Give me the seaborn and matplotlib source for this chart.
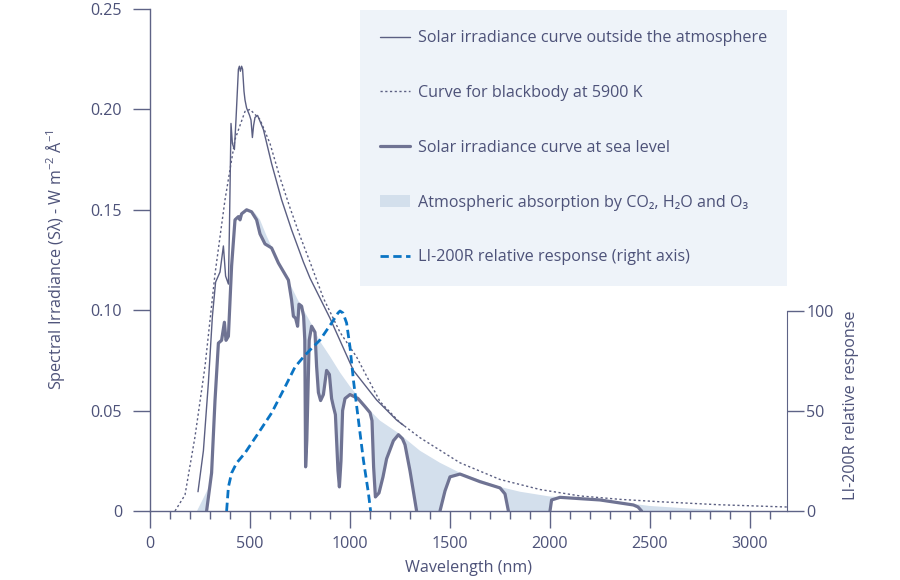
"""   Solar spectral irradiance vs wavelength with LI-200R response   """
import matplotlib.pyplot as plt
import matplotlib.ticker as mticker
from matplotlib.lines import Line2D
from matplotlib.patches import Patch
import seaborn as sns


# ~~~~~~~  Data  ~~~~~~~ #
# solar irradiance outside the atmosphere (nm, W m-2 A-1)
out_nm = [240, 267, 292, 312, 328, 350, 367, 378, 392, 397, 405, 412, 422, 430, 442,
          447, 452, 458, 463, 470, 475, 483, 498, 505, 512, 518, 525, 538, 567, 608,
          658, 708, 767, 800, 900, 1017, 1133, 1233, 1270]
out_val = [0.0096, 0.030, 0.064, 0.097, 0.114, 0.119, 0.132, 0.117, 0.113, 0.140, 0.193,
           0.183, 0.180, 0.195, 0.2200, 0.2215, 0.219, 0.2215, 0.220, 0.209, 0.2047,
           0.2007, 0.197, 0.1947, 0.186, 0.192, 0.196, 0.197, 0.190, 0.173, 0.155, 0.140,
           0.124, 0.116, 0.096, 0.070, 0.0553, 0.0453, 0.0425]

# blackbody at 5900 K
bb_nm = [125, 175, 225, 275, 325, 375, 425, 475, 500, 550, 600, 650, 700, 750, 800,
         867, 950, 1033, 1150, 1250, 1350, 1550, 1750, 1950, 2150, 2350, 2550, 2850,
         3150, 3185]
bb_val = [0.0, 0.008, 0.037, 0.072, 0.118, 0.155, 0.185, 0.199, 0.200, 0.195, 0.183,
          0.166, 0.151, 0.137, 0.124, 0.106, 0.089, 0.0767, 0.0545, 0.0440, 0.0365,
          0.0240, 0.0157, 0.0107, 0.0075, 0.0058, 0.0046, 0.0031, 0.0021, 0.0020]

# solar irradiance at sea level
sea_nm = [283, 308, 325, 342, 358, 372, 380, 392, 408, 425, 442, 450, 458, 483, 508,
          533, 550, 575, 608, 642, 692, 708, 717, 728, 738, 745, 758, 768, 774, 778,
          784, 796, 808, 825, 833, 842, 853, 867, 883, 897, 908, 917, 927, 940, 947,
          955, 963, 975, 1000, 1040, 1075, 1100, 1110, 1118, 1127, 1145, 1165, 1183,
          1217, 1242, 1262, 1275, 1300, 1333, 1450, 1475, 1500, 1550, 1650, 1750, 1775,
          1792, 2000, 2008, 2050, 2250, 2417, 2440, 2458]
sea_val = [0.0, 0.019, 0.055, 0.0836, 0.085, 0.094, 0.085, 0.087, 0.122, 0.145, 0.1466,
           0.145, 0.148, 0.150, 0.149, 0.145, 0.138, 0.133, 0.131, 0.1235, 0.115, 0.105,
           0.097, 0.096, 0.092, 0.103, 0.102, 0.097, 0.085, 0.022, 0.035, 0.085, 0.092,
           0.089, 0.072, 0.059, 0.055, 0.058, 0.070, 0.068, 0.056, 0.052, 0.048, 0.020,
           0.012, 0.025, 0.050, 0.056, 0.058, 0.056, 0.052, 0.049, 0.045, 0.022, 0.007,
           0.009, 0.017, 0.026, 0.035, 0.038, 0.036, 0.033, 0.020, 0.0, 0.0, 0.010,
           0.017, 0.0184, 0.0146, 0.0115, 0.0085, 0.0, 0.0, 0.0055, 0.0068, 0.0055,
           0.0030, 0.0020, 0.0]

# upper edge of the atmospheric absorption band
env_nm = [520, 550, 583, 620, 660, 700, 740, 780, 808, 850, 900, 950, 1000, 1050,
          1100, 1150, 1242, 1350, 1450, 1550, 1650, 1750, 1850, 2000, 2100, 2250,
          2420, 2500, 2700, 2950]
env_val = [0.149, 0.145, 0.137, 0.129, 0.121, 0.113, 0.105, 0.098, 0.093, 0.0845,
           0.077, 0.069, 0.062, 0.056, 0.050, 0.045, 0.0388, 0.030, 0.024, 0.019,
           0.0155, 0.012, 0.0096, 0.0072, 0.0068, 0.0058, 0.0035, 0.0025, 0.0012, 0.0]
uv_env_nm = [235, 290]
uv_env_val = [0.0, 0.011]

# LI-200R relative response (right axis, %)
li_nm = [383, 392, 408, 433, 475, 542, 608, 675, 725, 767, 800, 850, 908, 940, 950,
         965, 983, 1000, 1017, 1042, 1067, 1092, 1103]
li_val = [0, 12, 19, 24, 29, 39, 49, 62, 72, 77, 80.5, 85.5, 94, 99, 100, 99, 94,
          82, 65.5, 45.5, 25.5, 9, 0]

# ~~~~~~~  Styles  ~~~~~~~ #
text_color = '#4d5279'
axis_color = '#5e6386'
line_color = '#5b5f82'
sea_color = '#6f7393'
fill_color = '#d3dfec'
blue = '#0a74c4'
fs = 11.6

sns.set_style('white')
plt.rcParams['font.family'] = ['Open Sans', 'DejaVu Sans']
plt.rcParams['font.size'] = fs

fig = plt.figure(figsize=(9, 5.8), dpi=100)
ax = fig.add_axes([150 / 900, 1 - 511 / 580, 637 / 900, 502 / 580])
ax2 = ax.twinx()

# absorption fill: envelope forward, sea level back
sea_pts = [(x, y) for x, y in zip(sea_nm, sea_val) if x >= 520]
poly_x = env_nm + [p[0] for p in sea_pts[::-1]]
poly_y = env_val + [p[1] for p in sea_pts[::-1]]
ax.fill(poly_x, poly_y, color=fill_color, lw=0, zorder=1)
ax.fill(uv_env_nm + [283], uv_env_val + [0.0], color=fill_color, lw=0, zorder=1)

# curves
sns.lineplot(x=bb_nm, y=bb_val, ax=ax, color=line_color, lw=1.0,
             linestyle=(0, (1.6, 1.8)), sort=False, estimator=None, zorder=2)
sns.lineplot(x=out_nm, y=out_val, ax=ax, color=line_color, lw=1.0,
             sort=False, estimator=None, zorder=3)

# sea level curve: break it where it runs along the zero line
segments, cur = [], []
for x, y in zip(sea_nm, sea_val):
    if cur and y == 0 and cur[-1][1] == 0:
        segments.append(cur)
        cur = []
    cur.append((x, y))
segments.append(cur)
for seg in segments:
    sns.lineplot(x=[p[0] for p in seg], y=[p[1] for p in seg], ax=ax, color=sea_color,
                 lw=2.3, sort=False, estimator=None, zorder=4)

sns.lineplot(x=li_nm, y=li_val, ax=ax2, color=blue, lw=2.0,
             linestyle=(0, (3, 1.6)), sort=False, estimator=None)

# left axis
ax.set_xlim(0, 3185)
ax.set_ylim(0, 0.25)
ax.set_yticks([0, 0.05, 0.10, 0.15, 0.20, 0.25])
ax.yaxis.set_major_formatter(mticker.FuncFormatter(lambda v, p: '0' if v == 0 else f'{v:.2f}'))
ax.xaxis.set_major_locator(mticker.MultipleLocator(500))
ax.xaxis.set_minor_locator(mticker.MultipleLocator(100))
ax.tick_params(axis='y', which='major', length=12, width=1, color=axis_color,
               labelcolor=text_color, labelsize=fs, pad=8, left=True)
ax.tick_params(axis='x', which='major', length=12, width=1, color=axis_color,
               labelcolor=text_color, labelsize=fs, pad=6, bottom=True)
ax.tick_params(axis='x', which='minor', length=6, width=1, color=axis_color, bottom=True)
for side in ['top', 'right']:
    ax.spines[side].set_visible(False)
for side in ['left', 'bottom']:
    ax.spines[side].set_color(axis_color)
    ax.spines[side].set_linewidth(1)
ax.set_xlabel('Wavelength (nm)', color=text_color, fontsize=fs, labelpad=6)
ax.set_ylabel(r'Spectral Irradiance (Sλ) - W m$^{\mathregular{-2}}$ Å$^{\mathregular{-1}}$',
              color=text_color, fontsize=fs)
ax.yaxis.set_label_coords(-0.13, 0.5)

# right axis
ax2.set_ylim(0, 251)
ax2.set_yticks([0, 50, 100])
ax2.tick_params(axis='y', length=12, width=1, color=axis_color, labelcolor=text_color,
                labelsize=fs, pad=2, right=True)
for side in ['top', 'left', 'bottom']:
    ax2.spines[side].set_visible(False)
ax2.spines['right'].set_bounds(0, 100)
ax2.spines['right'].set_color(axis_color)
ax2.set_ylabel('LI-200R relative response', color=text_color, fontsize=fs)
ax2.yaxis.set_label_coords(1.088, 0.21)

# legend
handles = [
    Line2D([], [], color=line_color, lw=1.0),
    Line2D([], [], color=line_color, lw=1.0, linestyle=(0, (1.6, 1.8))),
    Line2D([], [], color=sea_color, lw=2.3),
    Patch(facecolor=fill_color, edgecolor='none'),
    Line2D([], [], color=blue, lw=2.0, linestyle=(0, (3, 1.6))),
]
labels = [
    'Solar irradiance curve outside the atmosphere',
    'Curve for blackbody at 5900 K',
    'Solar irradiance curve at sea level',
    'Atmospheric absorption by CO₂, H₂O and O₃',
    'LI-200R relative response (right axis)',
]
leg = ax2.legend(handles, labels, loc='upper right', bbox_to_anchor=(1.0, 0.998),
                 frameon=True, fancybox=False, facecolor='#eef3f9', edgecolor='none',
                 framealpha=1, fontsize=fs, labelspacing=2.41, borderpad=1.25,
                 handlelength=1.85, handletextpad=0.5, borderaxespad=0)
for t in leg.get_texts():
    t.set_color(text_color)

fig.savefig('out.png', dpi=100)
